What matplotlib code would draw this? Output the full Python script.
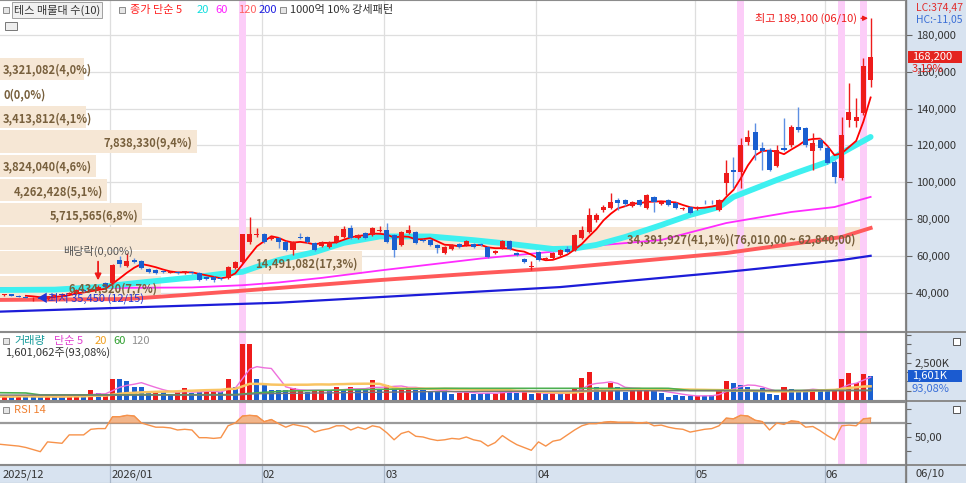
import matplotlib
matplotlib.use("Agg")
import matplotlib.pyplot as plt
import numpy as np
import pandas as pd
from matplotlib import patches
from matplotlib.transforms import blended_transform_factory as blend, offset_copy

plt.rcParams["font.family"] = ["Noto Sans CJK KR", "DejaVu Sans"]

# daily candles, thousand won (2025-12-08 .. 2026-06-10)
opens = [38.3, 38.5, 39.0, 38.4, 37.8, 36.8, 37.3, 36.5, 38.2, 38.6, 39.5, 40.0, 41.4, 40.8, 42.0, 45.0,
         45.2, 57.7, 54.4, 57.7, 57.2, 52.8, 52.3, 51.7, 50.9, 51.4, 50.6, 51.0, 50.6, 48.5, 48.5, 48.0,
         47.9, 53.3, 56.6, 67.5, 71.3, 71.8, 69.2, 69.7, 67.5, 63.2, 70.0, 70.2, 67.0, 65.3, 65.0, 67.5,
         70.2, 75.1, 69.7, 72.4, 71.3, 73.5, 74.0, 71.3, 65.9, 72.4, 72.9, 68.6, 68.6, 65.9, 61.5, 63.7,
         66.4, 65.9, 66.4, 66.4, 64.8, 61.5, 64.2, 68.1, 61.5, 58.3, 53.9, 62.1, 58.3, 58.8, 60.4, 63.7,
         63.2, 69.7, 72.9, 79.5, 84.9, 86.0, 90.3, 90.3, 87.1, 90.3, 86.0, 92.0, 88.1, 90.3, 88.7, 85.4,
         86.5, 85.4, 89.5, 89.5, 84.9, 99.6, 106.6, 105.5, 121.8, 127.3, 118.6, 117.5, 108.8, 118.6, 120.2, 130.0,
         129.5, 117.0, 123.0, 118.6, 111.0, 102.3, 133.8, 133.0, 137.6, 155.5]
highs = [39.2, 39.3, 39.3, 38.7, 38.0, 37.6, 37.5, 38.4, 39.0, 39.8, 40.4, 41.8, 41.6, 42.4, 44.0, 45.5,
         55.5, 59.8, 61.5, 58.8, 57.7, 53.6, 52.8, 52.2, 51.9, 51.8, 52.0, 51.6, 51.0, 49.0, 49.0, 48.5,
         54.4, 57.2, 72.0, 81.0, 75.1, 72.5, 71.0, 70.2, 68.0, 68.0, 72.4, 71.0, 67.5, 68.0, 68.0, 71.3,
         76.0, 76.7, 71.8, 72.9, 75.6, 76.0, 77.8, 71.8, 73.5, 76.7, 73.5, 69.2, 69.2, 66.4, 65.3, 66.4,
         66.9, 68.6, 66.9, 66.9, 65.3, 63.2, 68.6, 68.6, 62.1, 58.8, 57.2, 62.6, 59.3, 61.8, 63.7, 65.3,
         71.8, 76.0, 86.0, 83.3, 87.6, 94.1, 91.5, 91.0, 90.0, 91.0, 93.5, 92.5, 89.7, 90.8, 89.2, 86.5,
         87.0, 87.0, 90.3, 90.3, 91.0, 112.0, 113.7, 124.0, 128.4, 132.2, 122.0, 118.6, 120.2, 135.0, 131.0, 140.9,
         130.0, 126.7, 124.0, 119.5, 112.0, 135.4, 154.0, 146.0, 167.5, 189.1]
lows = [38.0, 38.2, 38.2, 37.5, 36.8, 35.45, 36.3, 36.2, 37.9, 38.4, 39.2, 39.8, 40.4, 40.6, 41.8, 42.8,
        44.8, 53.9, 53.9, 56.0, 52.8, 50.8, 50.2, 50.5, 50.5, 50.3, 50.3, 50.1, 46.5, 47.0, 45.8, 47.0,
        47.5, 52.8, 56.0, 66.4, 70.0, 67.0, 68.5, 64.2, 62.6, 60.4, 69.0, 67.0, 62.6, 64.8, 64.5, 67.0,
        69.7, 69.2, 69.2, 69.2, 70.7, 73.0, 67.0, 59.3, 65.3, 71.8, 66.4, 67.5, 65.3, 61.5, 61.0, 63.2,
        64.2, 65.3, 64.2, 65.3, 58.8, 60.9, 63.7, 63.2, 60.0, 56.0, 52.3, 57.2, 57.7, 58.3, 60.0, 61.5,
        62.6, 69.2, 72.4, 78.5, 84.0, 85.4, 85.0, 87.0, 86.5, 87.0, 85.4, 84.0, 87.6, 87.0, 85.4, 84.9,
        82.7, 84.9, 88.0, 88.0, 84.3, 93.0, 96.8, 96.8, 120.0, 112.0, 106.6, 106.0, 108.0, 117.0, 119.0, 127.3,
        119.0, 106.6, 117.5, 110.0, 99.6, 101.0, 130.0, 130.0, 136.5, 151.6]
closes = [38.8, 39.0, 38.4, 37.8, 37.2, 37.3, 36.7, 38.2, 38.6, 39.5, 40.0, 41.4, 40.8, 42.0, 43.0, 43.3,
          55.0, 55.5, 57.2, 56.6, 53.3, 51.2, 50.6, 51.0, 51.4, 50.8, 51.5, 50.4, 46.8, 47.4, 46.8, 47.4,
          53.9, 56.6, 71.8, 71.8, 71.8, 67.5, 70.2, 67.5, 63.2, 67.5, 69.4, 67.5, 63.2, 67.5, 67.5, 70.7,
          74.6, 69.7, 71.3, 69.7, 75.1, 74.0, 67.5, 63.2, 72.9, 74.0, 67.0, 68.1, 65.9, 64.2, 64.8, 65.9,
          64.8, 68.1, 64.8, 65.9, 59.3, 62.6, 68.1, 63.7, 60.4, 56.6, 54.4, 57.7, 58.8, 61.5, 63.2, 62.1,
          71.3, 74.0, 82.2, 82.2, 86.5, 89.2, 88.7, 88.1, 89.2, 87.6, 93.0, 89.2, 89.2, 87.6, 86.0, 86.0,
          83.3, 86.5, 89.0, 89.0, 90.3, 105.0, 105.5, 120.2, 124.6, 117.5, 117.0, 106.6, 117.5, 117.5, 130.0, 128.4,
          120.2, 121.3, 118.6, 110.4, 102.8, 125.6, 138.0, 135.5, 163.0, 168.2]

# volume, thousand shares; r = red bar, b = blue bar
volumes_k = [223, 268, 179, 335, 223, 223, 179, 268, 179, 223, 335, 335, 223, 670, 491, 335,
             1385, 1385, 1295, 893, 849, 558, 603, 558, 335, 558, 782, 447, 558, 558, 558, 558,
             1385, 893, 3752, 3752, 1385, 1005, 670, 670, 670, 782, 603, 558, 670, 625, 625, 893,
             670, 893, 670, 670, 1340, 670, 1005, 893, 782, 893, 670, 670, 558, 558, 670, 402,
             447, 558, 402, 402, 491, 402, 782, 558, 447, 558, 402, 491, 402, 447, 402, 558,
             782, 1452, 1854, 893, 782, 1117, 893, 558, 670, 670, 670, 603, 491, 223, 335, 268,
             268, 268, 268, 335, 670, 1295, 1161, 1005, 893, 558, 782, 402, 335, 893, 715, 670,
             670, 670, 670, 670, 625, 1407, 1787, 1117, 1720, 1601]
volume_colors = ("rrbrbbbrbbrrbrbr" "rbbbbbrbbrrbbrrbrb" "rrbbbbbrrbrrbrbrbbrb"
                 "rbrrbbbbbbrrbbbrrbbrbrbrbr" "rrrbrrbbrrrbbbbbbrbb" "rrbbbbbbbrbbbrbbrrrrrb")

rsi14 = [40, 39, 38, 37, 35, 32, 29, 43, 42, 41, 53, 53, 53, 61, 62, 62,
         79, 79, 81, 80, 70, 67, 64, 64, 63, 60, 61, 60, 49, 49, 48, 49,
         66, 70, 80, 81, 80, 72, 75, 69, 64, 68, 66, 64, 57, 60, 62, 66,
         66, 60, 64, 61, 66, 64, 56, 46, 55, 58, 51, 50, 47, 45, 46, 48,
         47, 50, 46, 44, 37, 42, 52, 45, 39, 35, 31, 43, 37, 44, 46, 53,
         60, 66, 69, 69, 71, 72, 71, 71, 71, 70, 71, 66, 67, 64, 62, 61,
         57, 59, 61, 62, 66, 77, 76, 81, 80, 74, 72, 60, 70, 68, 73, 72,
         64, 65, 59, 52, 46, 66, 67, 66, 76, 77]

# moving averages (candle index, thousand won)
ma20_idx = [0, 8, 14, 20, 27, 32, 34, 36, 39, 44, 48, 53, 60, 66, 71, 77, 80, 83, 87, 92, 96, 100, 102, 108, 111, 115, 117, 121]
ma20_val = [41.4, 41.6, 43.0, 45.5, 48.2, 50.6, 51.3, 54.0, 57.7, 62.0, 67.0, 70.5, 70.5, 68.5, 66.5, 63.7, 64.0, 65.9,
            70.2, 76.7, 82.2, 86.5, 92.0, 101.2, 105.5, 111.0, 115.9, 124.6]
ma60_idx = [0, 15, 27, 34, 39, 45, 53, 67, 79, 84, 92, 101, 110, 116, 121]
ma60_val = [42.5, 42.5, 42.8, 44.0, 45.5, 48.0, 52.0, 58.5, 63.0, 65.9, 68.6, 77.8, 83.8, 86.5, 92.0]
ma120_idx = [0, 18, 26, 39, 53, 67, 78, 101, 117, 121]
ma120_val = [36.0, 36.5, 38.7, 42.5, 46.8, 50.6, 53.3, 61.5, 70.2, 75.1]
ma200_idx = [0, 39, 78, 101, 117, 121]
ma200_val = [29.6, 34.5, 43.0, 51.2, 57.7, 60.0]

vol_ma60_idx = [0, 4, 6, 33, 36, 40, 50, 62, 93, 96, 121]
vol_ma60_val = [490, 470, 340, 360, 480, 600, 690, 782, 782, 640, 640]
vol_ma120_idx = [0, 33, 36, 60, 90, 121]
vol_ma120_val = [330, 330, 420, 560, 620, 640]

# volume profile (10 bins, top to bottom)
vp_counts = [3321082, 0, 3413812, 7838330, 3824040, 4262428, 5715565, 34391927, 14491082, 6434320]
vp_pcts = [4.0, 0.0, 4.1, 9.4, 4.6, 5.1, 6.8, 41.1, 17.3, 7.7]
vp_max_range = (76010, 62840)

month_starts = [16, 37, 54, 75, 97, 115]
month_labels = ["2026/01", "02", "03", "04", "05", "06"]
signal_days = [34, 103, 117, 120]
low_idx, low_val = 5, 35450
high_idx, high_val = 121, 189100
exdiv_idx = 14

RED = "#ee1b1b"
BLUE = "#1a5fd0"
BLUE_WICK = "#5d8fe3"
PINK = "#fccdf8"
VP_BG = "#f6e7d5"
VP_TXT = "#78603d"
AXIS_BG = "#d8e3f0"
GRID = "#dedede"

W, H = 966, 483
fig = plt.figure(figsize=(W / 100, H / 100), dpi=100, facecolor=AXIS_BG)


def box(x0, y0, x1, y1):
    return [x0 / W, 1 - y1 / H, (x1 - x0) / W, (y1 - y0) / H]


ax = fig.add_axes(box(0, 0, 905, 331))
axv = fig.add_axes(box(0, 332, 905, 400), sharex=ax)
axr = fig.add_axes(box(0, 402, 905, 464), sharex=ax)
axd = fig.add_axes(box(0, 465, 905, 483), sharex=ax)

n = len(closes)
idx = np.arange(n)
o = np.array(opens) * 1000
h = np.array(highs) * 1000
l = np.array(lows) * 1000
c = np.array(closes) * 1000

ax.set_xlim(3 / 7.22, 908 / 7.22)
ax.set_ylim(19124, 199022)

for a in (ax, axv, axr, axd):
    for s in a.spines.values():
        s.set_color("#8c8c8c")
    a.spines["left"].set_visible(False)
    a.tick_params(axis="x", bottom=False, labelbottom=False)

# grid
price_ticks = np.arange(40000, 180001, 20000)
for t in price_ticks:
    ax.axhline(t, color=GRID, lw=0.9, zorder=0.2)
for a in (ax, axv, axr):
    for m in month_starts:
        a.axvline(m - 0.35, color=GRID, lw=0.9, zorder=0.2)
    for s in signal_days:
        a.axvspan(s - 0.5, s + 0.5, color=PINK, lw=0, zorder=0.8)

# volume profile
step = vp_max_range[0] - vp_max_range[1]
imax = int(np.argmax(vp_pcts))
vp_tr = blend(ax.transAxes, ax.transData)
for k, (cnt, pct) in enumerate(zip(vp_counts, vp_pcts)):
    hi = vp_max_range[0] + (imax - k) * step
    lo = hi - step
    frac = pct / vp_pcts[imax] * 0.95
    if frac > 0:
        ax.add_patch(patches.Rectangle((0, lo + 500), frac, step - 1000, transform=vp_tr,
                                       fc=VP_BG, ec="none", zorder=0.5))
    label = f"{cnt:,}({pct:.1f}%)".replace(".", ",")
    if k == imax:
        label += f"({hi:,},00 ~ {lo:,},00)"
    if frac * 905 < 100:
        tx, ha = 3 / 905, "left"
    else:
        tx, ha = frac - 4 / 905, "right"
    ax.text(tx, (hi + lo) / 2, label, transform=vp_tr, ha=ha, va="center_baseline",
            fontsize=8, color=VP_TXT, fontweight="bold", zorder=6)

# moving averages
ax.plot(ma200_idx, np.array(ma200_val) * 1000, color="#1c1cd8", lw=1.6, zorder=2)
ax.plot(ma120_idx, np.array(ma120_val) * 1000, color="#ff5a5a", lw=2.8, zorder=2)
ax.plot(ma60_idx, np.array(ma60_val) * 1000, color="#ff2cff", lw=1.3, zorder=2)
ax.plot(ma20_idx, np.array(ma20_val) * 1000, color="#3ef0f0", lw=4.2, zorder=2,
        solid_capstyle="round")
ma5 = pd.Series(c).rolling(5).mean()
ax.plot(idx, ma5, color="#ff0000", lw=1.3, zorder=3)

# candles
up = c >= o
ax.vlines(idx, l, h, colors=np.where(up, RED, BLUE_WICK), lw=1, zorder=4)
ax.bar(idx, np.maximum(np.abs(c - o), 450), bottom=np.minimum(o, c), width=0.7,
       color=np.where(up, RED, BLUE), lw=0, zorder=5)

# annotations on price panel
ax.annotate(f"최고 {high_val:,} (06/10)", xy=(high_idx - 0.35, high_val),
            xytext=(high_idx - 1.9, high_val), ha="right", va="center", fontsize=8, color=RED,
            arrowprops=dict(arrowstyle="-|>", color=RED, lw=1, shrinkA=1, shrinkB=0,
                            mutation_scale=7), zorder=7)
ax.annotate(f"◀최저 {low_val:,} (12/15)", xy=(low_idx, low_val), xytext=(2.9, 2.2),
            textcoords="offset points", ha="left", va="center", fontsize=8,
            color="#1f35d6", zorder=7)
ax.annotate("배당락(0,00%)", xy=(exdiv_idx, highs[exdiv_idx] * 1000), xytext=(0, 20),
            textcoords="offset points", ha="center", va="bottom", fontsize=8, color="#555555",
            arrowprops=dict(arrowstyle="-|>", color=RED, lw=1.3, shrinkA=1, shrinkB=3.5,
                            mutation_scale=9), zorder=7)

# price axis on the right
ax.yaxis.tick_right()
ax.set_yticks(price_ticks)
ax.set_yticklabels([f"{int(t):,}" for t in price_ticks])
ax.tick_params(axis="y", direction="out", length=5, width=0.8, color="#666666",
               labelsize=8, labelcolor="#333333", pad=3)
last_tr = blend(ax.transAxes, ax.transData)
ax.add_patch(patches.Rectangle((908 / 905, c[-1] - 3300), 54 / 905, 6600, transform=last_tr,
                               fc="#e4241f", ec="none", clip_on=False, zorder=8))
ax.text(912 / 905, c[-1], f"{int(c[-1]):,}", transform=last_tr, ha="left", va="center",
        fontsize=8, color="white", clip_on=False, zorder=9)
chg = (c[-1] / c[-2] - 1) * 100
ax.text(912 / 905, c[-1], f"{chg:.2f}%".replace(".", ","),
        transform=offset_copy(last_tr, fig=fig, y=-12, units="dots"),
        ha="left", va="center", fontsize=8, color="#e4241f", clip_on=False, zorder=9)
fig.text(916 / W, 1 - 8 / H, "LC:374,47", fontsize=7.5, color="#e03030", va="center")
fig.text(916 / W, 1 - 20 / H, "HC:-11,05", fontsize=7.5, color="#3b6fd6", va="center")

# volume panel
axv.set_ylim(0, 68 * 67)
axv.bar(idx, volumes_k, width=0.7, color=[RED if ch == "r" else BLUE for ch in volume_colors],
        lw=0, zorder=3)
vol_s = pd.Series(volumes_k, dtype=float)
axv.plot(idx, vol_s.rolling(5, min_periods=1).mean(), color="#ee70dc", lw=1.0, zorder=4)
axv.plot(idx, vol_s.rolling(20, min_periods=1).mean(), color="#f9c462", lw=1.8, zorder=4)
axv.plot(vol_ma60_idx, vol_ma60_val, color="#4caf50", lw=1.2, zorder=4)
axv.plot(vol_ma120_idx, vol_ma120_val, color="#777777", lw=1.0, zorder=4)
axv.yaxis.tick_right()
axv.set_yticks([2500])
axv.set_yticklabels(["2,500K"])
axv.set_yticks([625, 1250, 1875, 3125, 3750, 4375], minor=True)
axv.tick_params(axis="y", which="both", direction="out", length=4, width=0.8, color="#666666",
                labelsize=8, labelcolor="#333333", pad=3)
vtr = blend(axv.transAxes, axv.transData)
axv.add_patch(patches.Rectangle((908 / 905, volumes_k[-1] - 400), 54 / 905, 800, transform=vtr,
                                fc="#1b5bd0", ec="none", clip_on=False, zorder=8))
axv.text(912 / 905, volumes_k[-1], f"{volumes_k[-1]:,}K", transform=vtr, ha="left",
         va="center", fontsize=8, color="white", clip_on=False, zorder=9)
axv.text(912 / 905, volumes_k[-1], "93,08%", transform=offset_copy(vtr, fig=fig, y=-13, units="dots"),
         ha="left", va="center", fontsize=8, color="#3a6fd8", clip_on=False, zorder=9)

# RSI panel
rsi = np.array(rsi14, dtype=float)
axr.set_ylim(11.4, 100)
axr.fill_between(idx, rsi, 70, where=rsi >= 70, interpolate=True, color="#f2b58a",
                 ec="#e08a50", lw=0.6, zorder=2)
axr.axhline(70, color="#9a9a9a", lw=1.6, zorder=1.5)
axr.plot(idx, rsi, color="#f7924a", lw=1.0, zorder=3)
axr.yaxis.tick_right()
axr.set_yticks([50])
axr.set_yticklabels(["50,00"])
axr.set_yticks([30, 70, 90], minor=True)
axr.tick_params(axis="y", which="both", direction="out", length=4, width=0.8, color="#666666",
                labelsize=8, labelcolor="#333333", pad=3)

# date strip
axd.set_facecolor(AXIS_BG)
axd.set_yticks([])
axd.set_ylim(0, 1)
axd.text(3 / 905, 0.45, "2025/12", transform=axd.transAxes, fontsize=8, color="#333333",
         va="center")
for m, lab in zip(month_starts, month_labels):
    axd.axvline(m - 0.35, color="#a9b7c9", lw=0.9)
    axd.text(m - 0.2, 0.45, lab, fontsize=8, color="#333333", va="center")
fig.text(915 / W, 1 - 474 / H, "06/10", fontsize=8, color="#333333", va="center")

# separators across the full width
for yy in (331.5, 401, 464.5):
    fig.add_artist(plt.Line2D([0, 1], [1 - yy / H] * 2, color="#8a8a8a", lw=1.4,
                              transform=fig.transFigure))
fig.add_artist(plt.Line2D([905.5 / W] * 2, [1 - 483 / H, 1], color="#7d7d7d", lw=1,
                          transform=fig.transFigure))


def square(x, y, w=6, hh=6, fc="#e6e6e6", ec="#8a8a8a"):
    fig.add_artist(patches.Rectangle((x / W, 1 - (y + hh) / H), w / W, hh / H,
                                     transform=fig.transFigure, fc=fc, ec=ec, lw=0.7))


# legends
square(3, 7)
fig.text(14 / W, 1 - 10 / H, "테스 매물대 수(10)", fontsize=8, color="#333333", va="center",
         bbox=dict(boxstyle="square,pad=0.18", fc="#f0f0f0", ec="#a0a0a0", lw=0.7))
square(119, 7)
for tx, s, col in [(130, "종가 단순 5", "#ff2020"), (197, "20", "#10dede"), (215, "60", "#ff20ff"),
                   (238, "120", "#ff6060"), (259, "200", "#2020e0")]:
    fig.text(tx / W, 1 - 10 / H, s, fontsize=8, color=col, va="center")
square(280, 7)
fig.text(290 / W, 1 - 10 / H, "1000억 10% 강세패턴", fontsize=8, color="#333333", va="center")
square(5, 22, w=12, hh=8, fc="#eeeeee", ec="#777777")

square(3, 338)
for tx, s, col in [(14, "거래량", "#159a9a"), (54, "단순 5", "#e040d0"), (95, "20", "#f0a020"),
                   (113, "60", "#30a030"), (131, "120", "#909090")]:
    fig.text(tx / W, 1 - 341 / H, s, fontsize=8, color=col, va="center")
fig.text(5 / W, 1 - 353 / H, "1,601,062주(93,08%)", fontsize=8, color="#333333", va="center")
square(953, 338, w=7, hh=7, fc="#ffffff", ec="#555555")

square(3, 407)
fig.text(14 / W, 1 - 410 / H, "RSI 14", fontsize=8, color="#f08030", va="center")
square(953, 406, w=7, hh=7, fc="#ffffff", ec="#555555")

fig.savefig("out.png", dpi=100, facecolor=fig.get_facecolor())
